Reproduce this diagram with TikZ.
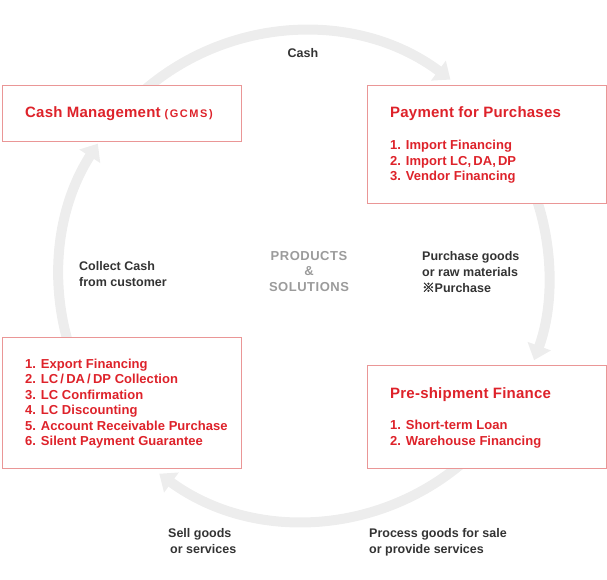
\documentclass[tikz,border=0pt]{standalone}
\usepackage{fontspec}
\setmainfont{Liberation Sans}
\newfontfamily\redfont{Liberation Sans}[LetterSpace=1.5]
\newfontfamily\itemfont{Liberation Sans}[LetterSpace=0.3]
\newfontfamily\gcmsfont{Liberation Sans}[LetterSpace=14]
\newfontfamily\prodfont{Liberation Sans}[LetterSpace=4]
\newfontfamily\cjkfont{Noto Sans CJK JP}[FakeBold=2.5]
\usetikzlibrary{arrows.meta}
\definecolor{redtxt}{RGB}{222,34,42}
\definecolor{redline}{RGB}{234,150,150}
\definecolor{ringc}{RGB}{237,237,237}
\definecolor{labc}{RGB}{51,51,51}
\definecolor{prodc}{RGB}{155,155,155}
\begin{document}
\begin{tikzpicture}[x=1pt,y=-1pt,
  ringarrow/.style={draw=ringc, line width=10pt, -{Triangle[width=24pt,length=15pt]}},
  box/.style={draw=redline, line width=1pt, fill=white, inner sep=0pt, anchor=north west},
  titletext/.style={text=redtxt, font=\redfont\bfseries\fontsize{15}{17}\selectfont, anchor=base west, inner sep=0pt},
  itemtext/.style={text=redtxt, font=\itemfont\bfseries\fontsize{13}{15}\selectfont, anchor=base west, inner sep=0pt},
  labeltext/.style={text=labc, font=\bfseries\fontsize{12.5}{15}\selectfont, anchor=base west, inner sep=0pt},
  prodtext/.style={text=prodc, font=\prodfont\bfseries\fontsize{13}{15}\selectfont, anchor=base, inner sep=0pt}]
\useasboundingbox (0,0) rectangle (607,579);
\coordinate (c) at (304,276);
% ring arrows
\draw[ringarrow] (c) ++(-135:245) arc[start angle=-135, end angle=-53.3, radius=245];
\draw[ringarrow] (c) ++(-20:245) arc[start angle=-20, end angle=20.1, radius=245];
\draw[ringarrow] (c) ++(45:245) arc[start angle=45, end angle=126.2, radius=245];
\draw[ringarrow] (c) ++(150:245) arc[start angle=150, end angle=212.7, radius=245];
% boxes
\node[box, minimum width=239pt, minimum height=56pt] (cmbox) at (2,85) {};
\node[box, minimum width=239pt, minimum height=118pt] (paybox) at (367,85) {};
\node[box, minimum width=239pt, minimum height=131pt] (expbox) at (2,337) {};
\node[box, minimum width=239pt, minimum height=103pt] (prebox) at (367,365) {};
% box texts
\node[titletext] (cmtitle) at (25,117) {Cash Management\hspace{4pt}{\gcmsfont\fontsize{11}{12}\selectfont(GCMS)}};
\node[titletext] (paytitle) at (390,117) {Payment for Purchases};
\node[itemtext] (p1) at (390,149) {1. Import Financing};
\node[itemtext] (p2) at (390,165) {2. Import LC,\,DA,\,DP};
\node[itemtext] (p3) at (390,180) {3. Vendor Financing};
\node[itemtext] (e1) at (25,368) {1. Export Financing};
\node[itemtext] (e2) at (25,383.5) {2. LC\,/\,DA\,/\,DP Collection};
\node[itemtext] (e3) at (25,399) {3. LC Confirmation};
\node[itemtext] (e4) at (25,414.5) {4. LC Discounting};
\node[itemtext] (e5) at (25,430) {5. Account Receivable Purchase};
\node[itemtext] (e6) at (25,445.5) {6. Silent Payment Guarantee};
\node[titletext] (pretitle) at (390,398) {Pre-shipment Finance};
\node[itemtext] (s1) at (390,429) {1. Short-term Loan};
\node[itemtext] (s2) at (390,445) {2. Warehouse Financing};
% labels
\node[labeltext, anchor=base] (cash) at (303,57) {Cash};
\node[labeltext] (col1) at (79,270) {Collect Cash};
\node[labeltext] (col2) at (79,286) {from customer};
\node[prodtext] (prod1) at (309,260) {PRODUCTS};
\node[prodtext] (prod2) at (309,275.5) {\&};
\node[prodtext] (prod3) at (309,291.5) {SOLUTIONS};
\node[labeltext] (pur1) at (422,260.5) {Purchase goods};
\node[labeltext] (pur2) at (422,276.5) {or raw materials};
\node[labeltext] (pur3) at (422,292) {{\cjkfont\fontsize{12.5}{14}\selectfont ※}Purchase};
\node[labeltext] (sell1) at (168,537) {Sell goods};
\node[labeltext] (sell2) at (170,553) {or services};
\node[labeltext] (proc1) at (369,537) {Process goods for sale};
\node[labeltext] (proc2) at (369,553) {or provide services};
\end{tikzpicture}
\end{document}
